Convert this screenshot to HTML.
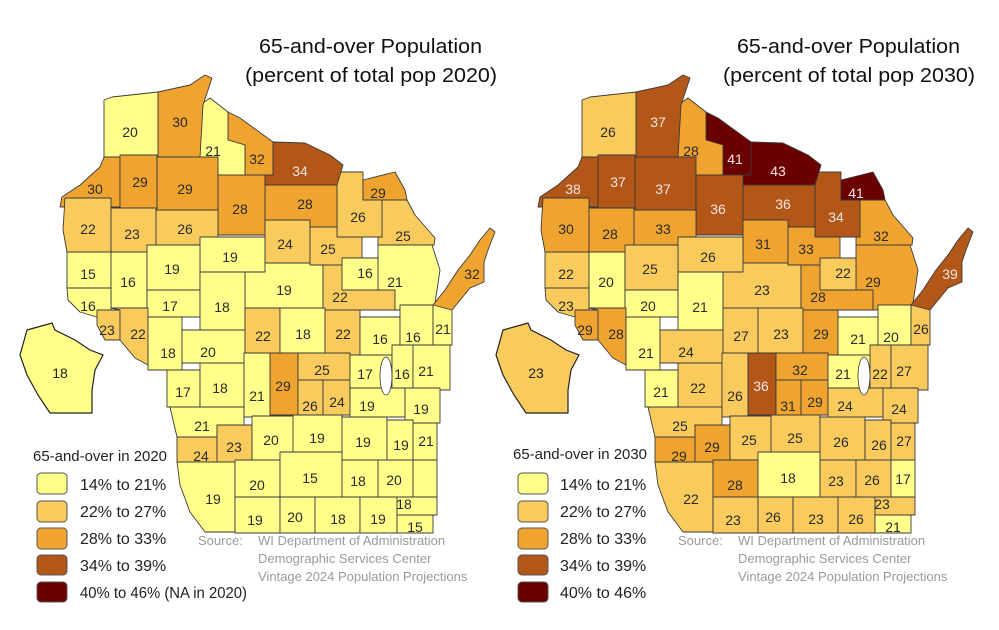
<!DOCTYPE html>
<html><head><meta charset="utf-8"><style>
html,body{margin:0;padding:0;background:#fff}
svg{display:block}
text{font-family:"Liberation Sans",sans-serif}
</style></head><body>
<svg id="s" width="999" height="630" xmlns="http://www.w3.org/2000/svg">
<rect width="999" height="630" fill="#fff"/>
<g id="m0"></g>
<g id="m1" transform="translate(478,0)"></g>
<text x="482" y="53" font-size="20" fill="#111" text-anchor="end" textLength="223" lengthAdjust="spacingAndGlyphs">65-and-over Population</text>
<text x="497" y="82" font-size="20" fill="#111" text-anchor="end" textLength="252" lengthAdjust="spacingAndGlyphs">(percent of total pop 2020)</text>
<text x="960" y="53" font-size="20" fill="#111" text-anchor="end" textLength="223" lengthAdjust="spacingAndGlyphs">65-and-over Population</text>
<text x="975" y="82" font-size="20" fill="#111" text-anchor="end" textLength="252" lengthAdjust="spacingAndGlyphs">(percent of total pop 2030)</text>
<text x="33" y="461" font-size="15" fill="#222" textLength="134" lengthAdjust="spacingAndGlyphs">65-and-over in 2020</text>
<g stroke="#555" stroke-width="1">
<rect x="37" y="473" width="30" height="21" rx="4" fill="#FFFF8A"/>
<rect x="37" y="501" width="30" height="21" rx="4" fill="#F9CB5C"/>
<rect x="37" y="528" width="30" height="21" rx="4" fill="#F0A430"/>
<rect x="37" y="555" width="30" height="20" rx="4" fill="#B35718"/>
<rect x="37" y="582" width="30" height="20" rx="4" fill="#6B0000"/>
</g>
<g font-size="16" fill="#222">
<text x="80" y="490">14% to 21%</text>
<text x="80" y="517">22% to 27%</text>
<text x="80" y="544">28% to 33%</text>
<text x="80" y="571">34% to 39%</text>
<text x="80" y="598" textLength="167" lengthAdjust="spacingAndGlyphs">40% to 46% (NA in 2020)</text>
</g>
<text x="513" y="459" font-size="15" fill="#222" textLength="134" lengthAdjust="spacingAndGlyphs">65-and-over in 2030</text>
<g stroke="#555" stroke-width="1">
<rect x="518" y="473" width="30" height="21" rx="4" fill="#FFFF8A"/>
<rect x="518" y="501" width="30" height="21" rx="4" fill="#F9CB5C"/>
<rect x="518" y="528" width="30" height="21" rx="4" fill="#F0A430"/>
<rect x="518" y="555" width="30" height="20" rx="4" fill="#B35718"/>
<rect x="518" y="582" width="30" height="20" rx="4" fill="#6B0000"/>
</g>
<g font-size="16" fill="#222">
<text x="560" y="490">14% to 21%</text>
<text x="560" y="517">22% to 27%</text>
<text x="560" y="544">28% to 33%</text>
<text x="560" y="571">34% to 39%</text>
<text x="560" y="598">40% to 46%</text>
</g>
<g font-size="13" fill="#9a9a9a">
<text x="198" y="545">Source:</text>
<text x="258" y="545">WI Department of Administration</text>
<text x="258" y="563">Demographic Services Center</text>
<text x="258" y="581">Vintage 2024 Population Projections</text>
<text x="678" y="545">Source:</text>
<text x="738" y="545">WI Department of Administration</text>
<text x="738" y="563">Demographic Services Center</text>
<text x="738" y="581">Vintage 2024 Population Projections</text>
</g>
</svg>
<script>
var C=["#FFFF8A","#F9CB5C","#F0A430","#B35718","#6B0000"];
function col(v){if(v==="")return C[0];v=+v;return v<=21?C[0]:v<=27?C[1]:v<=33?C[2]:v<=39?C[3]:C[4];}
function R(a,b,c,d){return [a,b,c,b,c,d,a,d];}
var K=[
[R(245,263,323,308),"19","23",284,290],
[R(323,265,395,310),"22","28",340,297],
[[378,245,432,245,440,270,434,310,395,310,395,290,378,290],"21","29",395,282],
[R(342,258,378,290),"16","22",365,273],
[[382,200,407,200,415,215,435,238,434,245,378,245,378,237,382,237],"25","32",403,236],
[[337,172,363,172,363,200,382,200,382,237,337,237],"26","34",358,217],
[[363,180,395,172,405,190,407,200,363,200],"29","41",378,193],
[[265,185,337,185,337,227,310,227,310,220,265,220],"28","36",305,204],
[[273,142,305,143,330,155,343,165,337,185,265,185,265,175,273,175],"34","43",300,171],
[[228,112,240,118,273,142,273,175,245,175,245,145,228,140],"32","41",257,159],
[[200,105,210,98,228,112,228,140,245,145,245,175,200,175],"21","28",213,151],
[[158,92,190,85,205,75,212,78,203,105,200,157,158,157],"30","37",180,122],
[[104,100,112,97,158,92,158,157,104,157],"20","26",130,132],
[[60,207,62,197,80,185,100,167,104,157,120,157,120,207],"30","38",95,189],
[R(120,155,157,208),"29","37",140,182],
[R(157,157,218,210),"29","37",185,189],
[R(218,175,265,235),"28","36",240,209],
[R(265,220,310,263),"24","31",285,244],
[[310,227,337,227,337,237,362,237,362,258,342,258,342,265,310,265],"25","33",328,249],
[[65,198,111,198,111,252,67,252,63,230],"22","30",88,229],
[R(111,208,156,252),"23","28",132,234],
[R(156,210,218,245),"26","33",185,229],
[R(200,237,265,272),"19","26",230,257],
[R(67,252,111,288),"15","22",88,274],
[R(111,252,147,308),"16","20",128,282],
[R(147,245,200,290),"19","25",172,269],
[R(147,290,200,317),"17","20",170,306],
[R(200,272,245,333),"18","21",222,307],
[[67,288,111,288,111,310,100,318,80,312,68,300],"16","23",88,306],
[[97,310,120,310,120,340,105,340,97,325],"23","29",107,330],
[[111,308,148,308,148,365,135,358,120,340,120,310],"22","28",138,334],
[R(148,317,182,370),"18","21",168,353],
[R(182,330,245,363),"20","24",208,352],
[R(245,308,280,353),"22","27",263,336],
[R(280,308,325,353),"18","23",303,334],
[R(325,310,360,355),"22","29",343,334],
[R(360,317,400,355),"16","21",380,339],
[R(400,305,433,345),"16","20",413,337],
[R(433,305,452,345),"21","26",443,329],
[[433,305,445,290,458,270,470,255,480,240,490,228,495,232,488,250,484,262,484,282,470,288,452,310],"32","39",472,274],
[R(167,370,200,407),"17","21",183,392],
[R(200,363,244,407),"18","22",220,388],
[R(244,353,270,417),"21","26",257,396],
[R(270,353,298,415),"29","36",283,386],
[R(298,353,350,380),"25","32",322,370],
[R(298,380,323,415),"26","31",310,406],
[R(323,380,350,415),"24","29",337,402],
[R(350,355,392,390),"17","21",365,374],
[R(392,345,413,388),"16","22",402,374],
[R(413,345,450,390),"21","27",426,371],
[R(350,388,405,417),"19","24",367,406],
[R(405,388,440,423),"19","24",421,409],
[[170,407,244,407,244,425,217,425,217,437,177,437],"21","25",202,426],
[R(177,437,217,462),"24","29",201,456],
[R(217,425,252,462),"23","29",234,447],
[R(252,416,297,463),"20","25",271,440],
[R(293,415,342,453),"19","25",317,438],
[R(342,417,387,460),"19","26",363,442],
[R(387,420,413,460),"19","26",401,445],
[R(413,423,437,460),"21","27",426,441],
[[177,462,235,462,235,532,205,532,190,512,180,485],"19","22",213,499],
[R(235,460,280,497),"20","28",257,485],
[R(280,452,342,497),"15","18",310,478],
[R(342,460,378,497),"18","23",358,481],
[R(378,460,413,497),"20","26",394,480],
[R(413,460,437,497),"","17",425,479],
[R(235,497,280,533),"19","23",255,520],
[R(280,497,315,533),"20","26",295,517],
[R(315,497,360,533),"18","23",338,519],
[R(360,497,397,533),"19","26",378,519],
[R(397,497,437,515),"18","23",404,504],
[R(397,515,433,533),"15","21",415,527]
];
var ins=[27,330,45,325,52,323,55,330,75,340,90,350,103,355,95,370,92,390,92,413,50,413,38,395,27,375,20,355];
var NS="http://www.w3.org/2000/svg";
function el(t,a,p){var e=document.createElementNS(NS,t);for(var k in a)e.setAttribute(k,a[k]);p.appendChild(e);return e;}
[0,1].forEach(function(m){
  var g=document.getElementById("m"+m);
  var ig=el("g",{transform:m?"translate(-2,0)":""},g);
  el("polygon",{points:ins.join(","),fill:m?C[1]:C[0],stroke:"#222","stroke-width":"1.2"},ig);
  var t=el("text",{x:60,y:378,"font-size":"14",fill:"#222","text-anchor":"middle"},ig);
  t.textContent=m?"23":"18";
  K.forEach(function(k){
    el("polygon",{points:k[0].join(","),fill:col(k[1+m]),stroke:"#3a3a3a","stroke-width":"0.9","stroke-linejoin":"round"},g);
  });
  el("ellipse",{cx:386,cy:376,rx:6,ry:19,fill:"#fff",stroke:"#333","stroke-width":"0.8"},g);
  K.forEach(function(k){
    var v=k[1+m];if(v==="")return;
    var tx=el("text",{x:k[3],y:k[4]+5,"font-size":"14","text-anchor":"middle",fill:(+v>=34)?"#f4e4e4":"#2a2a2a"},g);
    tx.textContent=v;
  });
});
</script>
</body></html>
